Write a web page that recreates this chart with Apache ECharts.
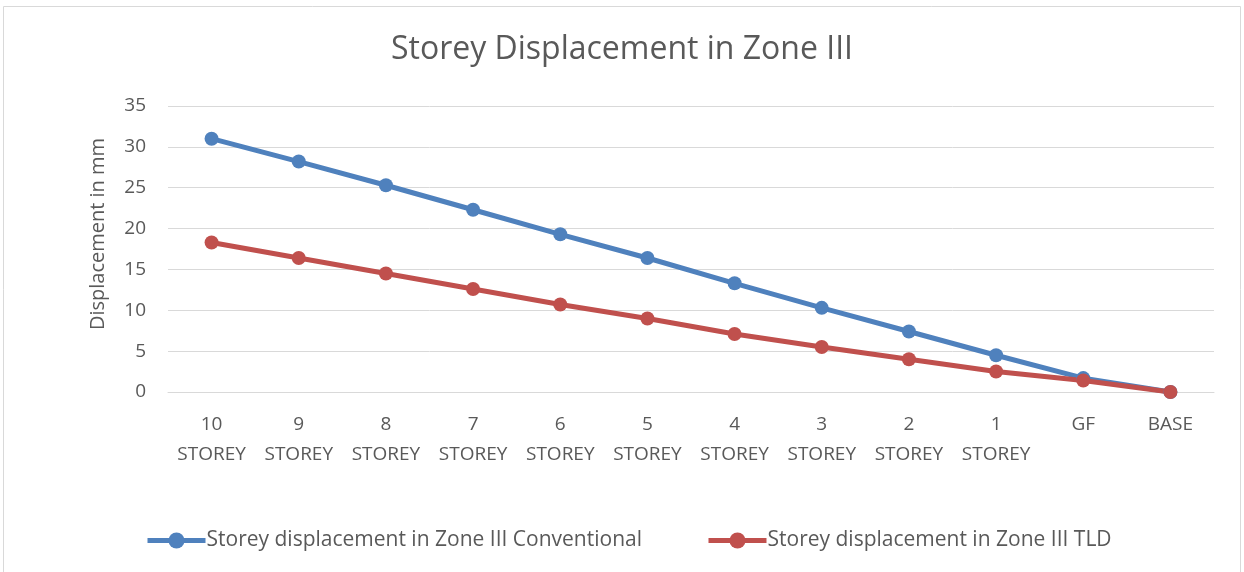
<!DOCTYPE html>
<html>
<head>
<meta charset="utf-8">
<script src="https://cdn.jsdelivr.net/npm/echarts@6/dist/echarts.min.js"></script>
<style>
  html, body { margin: 0; padding: 0; background: #fff; }
  #chart { width: 1244px; height: 572px; }
</style>
</head>
<body>
<div id="chart"></div>
<script>
const storeys = ['10\nSTOREY', '9\nSTOREY', '8\nSTOREY', '7\nSTOREY', '6\nSTOREY', '5\nSTOREY',
  '4\nSTOREY', '3\nSTOREY', '2\nSTOREY', '1\nSTOREY', 'GF', 'BASE'];
const conventional = [31.0, 28.2, 25.3, 22.3, 19.3, 16.4, 13.3, 10.3, 7.4, 4.5, 1.7, 0];
const tld = [18.3, 16.4, 14.5, 12.6, 10.7, 9.0, 7.1, 5.5, 4.0, 2.5, 1.4, 0];

const font = '"Open Sans", "DejaVu Sans", sans-serif';
const grey = '#595959';

let chart = echarts.init(document.getElementById('chart'));
chart.setOption({
  animation: false,
  textStyle: { fontFamily: font },
  title: {
    text: 'Storey Displacement in Zone III',
    left: 'center',
    top: 29,
    textStyle: { fontFamily: font, fontSize: 32, fontWeight: 'normal', color: grey }
  },
  graphic: [{
    type: 'rect',
    shape: { x: 3.5, y: 6.5, width: 1237, height: 580 },
    style: { fill: 'none', stroke: '#d9d9d9', lineWidth: 1 },
    silent: true
  }],
  legend: {
    bottom: 16,
    left: 140,
    itemWidth: 58,
    itemHeight: 20,
    itemGap: 64,
    lineStyle: { width: 5 },
    textStyle: { fontFamily: font, fontSize: 21, color: grey, padding: [0, 0, 0, -4] },
    data: ['Storey displacement in Zone III Conventional', 'Storey displacement in Zone III TLD']
  },
  grid: { left: 168, right: 30, top: 106, bottom: 180 },
  xAxis: {
    type: 'category',
    data: storeys,
    axisLine: { lineStyle: { color: '#d9d9d9' } },
    axisTick: { show: false },
    axisLabel: { color: grey, fontSize: 19, lineHeight: 30, margin: 18, interval: 0 }
  },
  yAxis: {
    type: 'value',
    min: 0,
    max: 35,
    interval: 5,
    name: 'Displacement in mm',
    nameLocation: 'middle',
    nameGap: 60,
    nameTextStyle: { fontFamily: font, fontSize: 20, color: grey, padding: [0, 0, 0, 30] },
    axisLine: { show: false },
    axisTick: { show: false },
    axisLabel: { color: grey, fontSize: 19, margin: 22 },
    splitLine: { lineStyle: { color: '#d9d9d9', width: 1 } }
  },
  series: [
    {
      name: 'Storey displacement in Zone III Conventional',
      type: 'line',
      data: conventional,
      symbol: 'circle',
      symbolSize: 14,
      color: '#4f81bd',
      lineStyle: { width: 5, color: '#4f81bd' }
    },
    {
      name: 'Storey displacement in Zone III TLD',
      type: 'line',
      data: tld,
      symbol: 'circle',
      symbolSize: 14,
      color: '#c0504d',
      lineStyle: { width: 5, color: '#c0504d' }
    }
  ]
});
</script>
</body>
</html>
